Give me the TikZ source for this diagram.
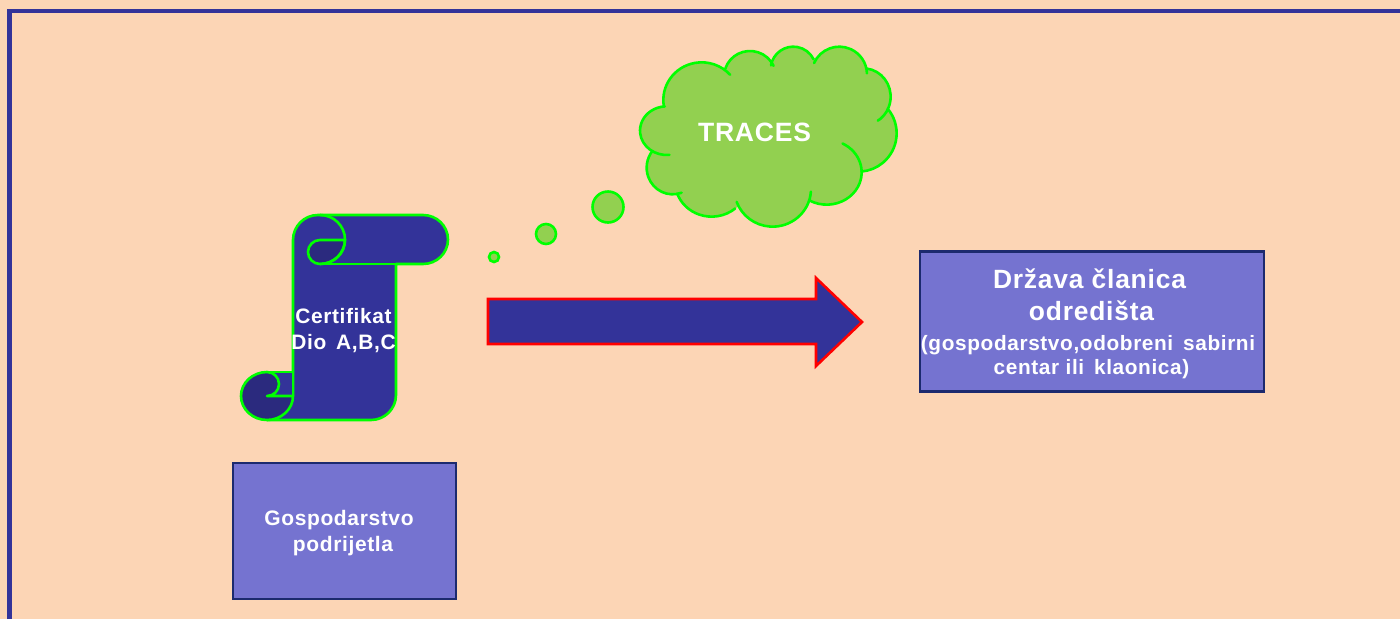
\documentclass[tikz,border=0pt]{standalone}
\usepackage{fontspec}
\setmainfont[LetterSpace=3]{Liberation Sans}
\definecolor{peach}{HTML}{FCD5B5}
\definecolor{navy}{HTML}{333399}
\definecolor{darkroll}{HTML}{2B2A7E}
\definecolor{boxfill}{HTML}{7573D0}
\definecolor{boxline}{HTML}{1C2A6E}
\definecolor{lime}{HTML}{00FF00}
\definecolor{cloudfill}{HTML}{92D050}
\tikzset{
  boxnode/.style={draw=boxline,line width=2.5pt,fill=boxfill,minimum width=#1,inner sep=0pt},
  scrollline/.style={draw=lime,line width=2.6pt,line join=round},
  bubble/.style={circle,draw=lime,line width=2.6pt,fill=cloudfill,inner sep=0pt,minimum size=#1},
  txt/.style={text=white,font=\bfseries,align=center,inner sep=0pt},
  flow/.style={draw=red,line width=2.6pt,fill=navy,line join=miter},
}
% cx, cy, rx, ry, start, end
\newcommand\lobefill[4]{\fill[cloudfill] (#1,#2) ellipse[x radius=#3,y radius=#4];}
\newcommand\lobeline[6]{\draw[lime,line width=2.6pt,line cap=round]
  ({#1+#3*cos(#5)},{#2+#4*sin(#5)}) arc[start angle=#5,end angle=#6,x radius=#3,y radius=#4];}
\newcommand\alllobes[1]{%
  #1{215}{195}{115}{113}{170}{318}%
  #1{360}{125}{78}{77}{198}{335}%
  #1{490}{103}{68}{68}{190}{334}%
  #1{628}{118}{83}{83}{204}{358}%
  #1{700}{185}{82}{85}{277}{418}%
  #1{685}{295}{115}{115}{-40}{85}%
  #1{590}{412}{105}{97}{-63}{120}%
  #1{428}{462}{115}{113}{4}{160}%
  #1{245}{440}{110}{105}{50}{160}%
  #1{128}{398}{78}{80}{70}{218}%
  #1{110}{287}{80}{73}{84}{266}%
}
\newcommand\fillonly[6]{\lobefill{#1}{#2}{#3}{#4}}
\begin{document}
\begin{tikzpicture}[x=1pt,y=-1pt]
\useasboundingbox (0,0) rectangle (1400,619);
\fill[peach] (0,0) rectangle (1400,619);
% frame
\draw[navy,line width=4.6pt] (9.5,619) -- (9.5,11) -- (1400,11);
% scroll
\path[scrollline,fill=navy]
  (293,396) -- (293,240) arc[start angle=180,end angle=270,radius=25] -- (423,215)
  arc[start angle=-90,end angle=90,x radius=25,y radius=24.5] -- (396,264) -- (396,395)
  arc[start angle=0,end angle=90,radius=25] -- (267,420);
\fill[navy] (267,372) rectangle (292,396);
\path[scrollline] (267,372) -- (293,372);
\path[scrollline,fill=darkroll] (293,396) arc[start angle=0,end angle=270,x radius=26,y radius=24]
  arc[start angle=-90,end angle=90,radius=12] -- cycle;
\path[scrollline] (396,264) -- (320,264);
\path[scrollline,fill=darkroll] (345,240) arc[start angle=0,end angle=90,x radius=25,y radius=24]
  arc[start angle=90,end angle=270,radius=12] -- cycle;
\path[scrollline] (320,215) arc[start angle=-90,end angle=90,x radius=25,y radius=24.5];
% cloud
\begin{scope}[shift={(630,35)},x=0.3333pt,y=-0.3333pt]
  \fill[cloudfill] (215,195) -- (360,125) -- (490,103) -- (628,118) -- (700,185) -- (685,295)
    -- (590,412) -- (428,462) -- (245,440) -- (128,398) -- (110,287) -- cycle;
  \alllobes\fillonly
  \alllobes\lobeline
\end{scope}
\node[bubble=31pt] (b1) at (608,207) {};
\node[bubble=20pt] (b2) at (546,234) {};
\node[bubble=10pt] (b3) at (494,257) {};
% arrow
\path[flow] (488,299) -- (816,299) -- (816,278) -- (862,322) -- (816,366) -- (816,344) -- (488,344) -- cycle;
% boxes
\node[boxnode=344pt,minimum height=140pt] (dest) at (1092,321.3) {};
\node[boxnode=223pt,minimum height=136pt] (orig) at (344.5,531) {};
% labels
\node[txt,font=\bfseries\fontsize{20.9}{26}\selectfont] (cert) at (343.5,330.5) {Certifikat\\Dio\, A,B,C};
\node[txt,font=\bfseries\fontsize{26.5}{30}\selectfont] (traces) at (754.5,132) {TRACES};
\node[txt,font=\bfseries\fontsize{21}{26}\selectfont] (origt) at (339,533) {Gospodarstvo\\\hspace*{8pt}podrijetla};
\node[txt,font=\bfseries\fontsize{20.8}{24}\selectfont] (destt) at (1088,323.5)
  {\fontsize{26.4}{31}\selectfont\hspace*{3pt}Država članica\\[8pt]
   \fontsize{26.4}{31}\selectfont\hspace*{7pt}odredišta\\[6pt]
   (gospodarstvo,odobreni\, sabirni\\\hspace*{7pt}centar ili\, klaonica)};
\end{tikzpicture}
\end{document}
